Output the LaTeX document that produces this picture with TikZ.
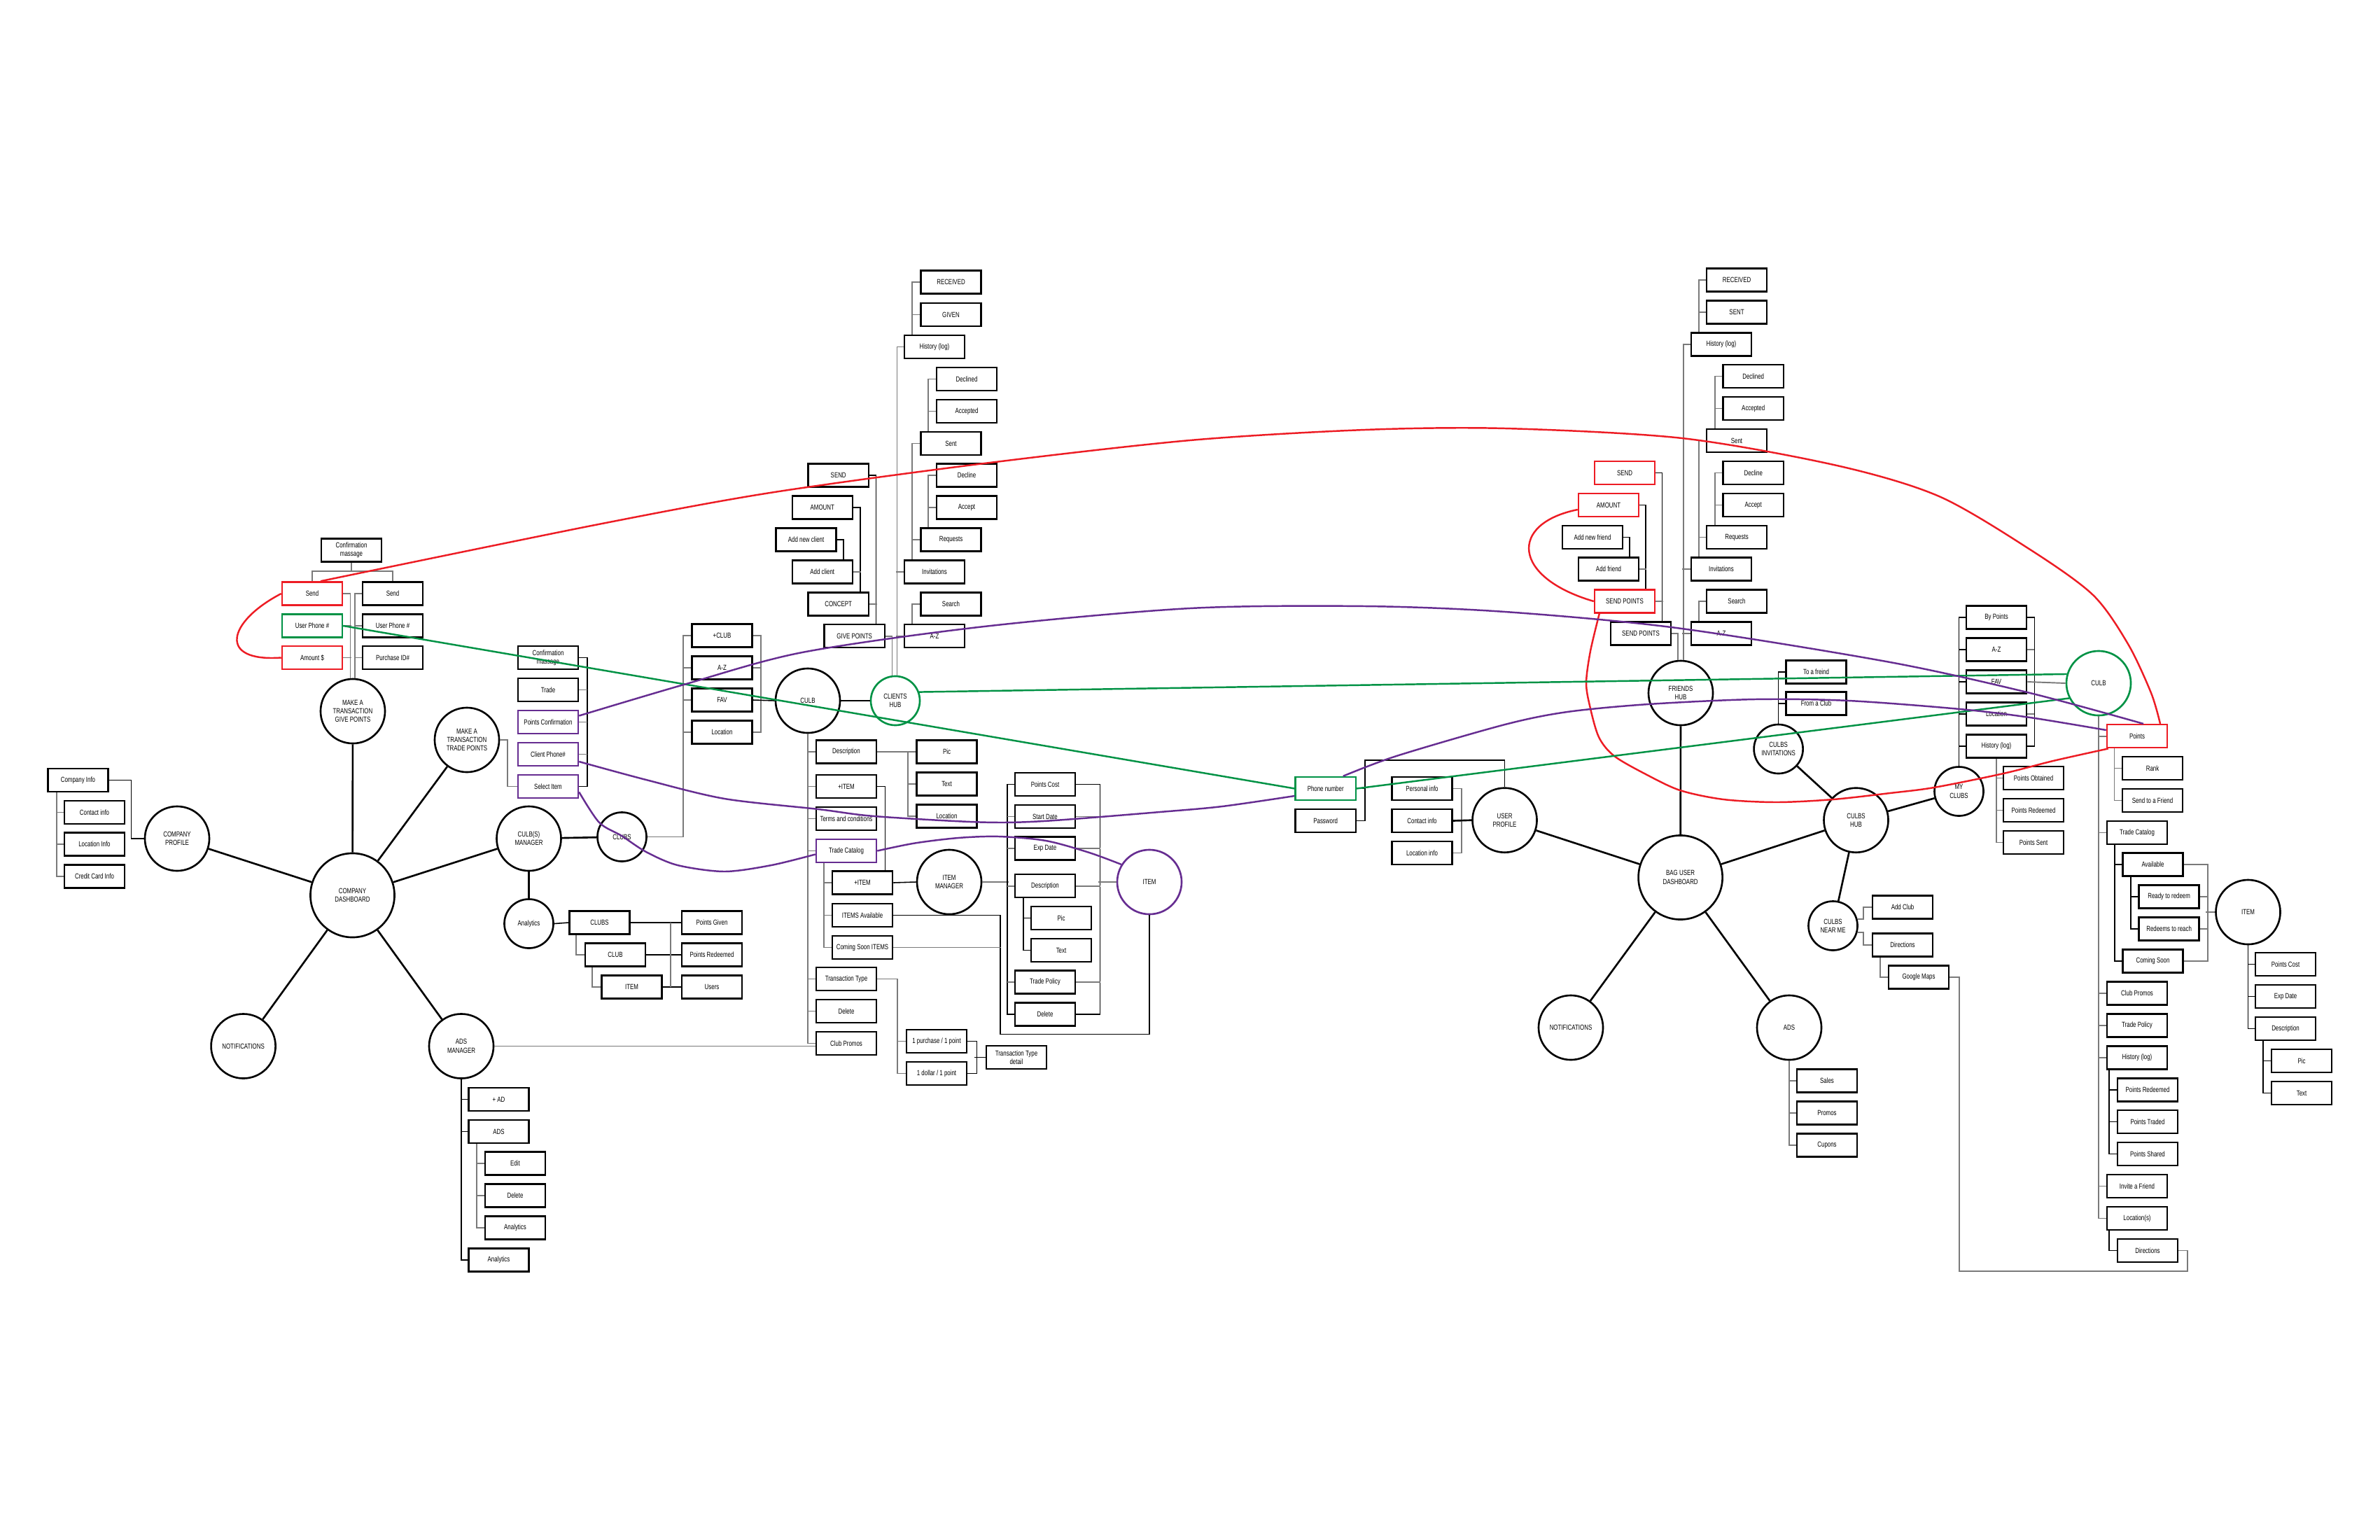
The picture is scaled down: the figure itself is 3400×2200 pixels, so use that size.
\documentclass[tikz,border=0pt]{standalone}
\usepackage{fontspec}
\newfontfamily\lbl[FakeStretch=0.75]{Liberation Sans}
\usetikzlibrary{calc}
\definecolor{rd}{HTML}{ED1C24}
\definecolor{gn}{HTML}{009245}
\definecolor{pu}{HTML}{662D91}
\definecolor{tg}{HTML}{7A7A7A}
\begin{document}
\begin{tikzpicture}[x=0.01cm, y=-0.01cm,
  every node/.style={font=\lbl\fontsize{3}{3.5}\selectfont},
  bx/.style={draw, line width=0.7pt, minimum width=0.86cm, minimum height=0.33cm, inner sep=0pt, align=center},
  bxr/.style={bx, draw=rd},
  bxg/.style={bx, draw=gn},
  bxp/.style={bx, draw=pu},
  hub/.style={draw, circle, line width=0.75pt, inner sep=0pt, align=center, minimum size=0.92cm},
  hubs/.style={hub, minimum size=0.70cm},
  hubl/.style={hub, minimum size=1.2cm},
  sp/.style={draw=black, line width=0.75pt},
  tr/.style={draw=tg, line width=0.55pt},
  trb/.style={draw=black, line width=0.45pt},
  rl/.style={draw=rd, line width=0.7pt},
  gl/.style={draw=gn, line width=0.7pt},
  pl/.style={draw=pu, line width=0.7pt}]
\fill[white] (0,0) rectangle (3400,2200);
\useasboundingbox (0,0) rectangle (3400,2200);

% ---------- LEFT: company side ----------
\node[bx] (confA) at (502,786) {Confirmation\\massage};
\node[bxr] (sendR) at (446,848) {Send};
\node[bxg] (phoneG) at (446,894) {User Phone \#};
\node[bxr] (amtR) at (446,939.5) {Amount \$};
\node[bx] (sendB) at (561,848) {Send};
\node[bx] (phoneB) at (561,894) {User Phone \#};
\node[bx] (purch) at (561,939.5) {Purchase ID\#};
\node[hub] (give) at (504,1016) {MAKE A\\TRANSACTION\\GIVE POINTS};
\node[hubl] (cdash) at (503.5,1279) {COMPANY\\DASHBOARD};
\node[hub] (cprof) at (253,1198) {COMPANY\\PROFILE};
\node[hub] (trade) at (667,1057) {MAKE A\\TRANSACTION\\TRADE POINTS};
\node[hub] (cman) at (755.5,1198) {CULB(S)\\MANAGER};
\node[hub] (notif1) at (347.6,1494.5) {NOTIFICATIONS};
\node[hub] (adsman) at (659,1494.5) {ADS\\MANAGER};
\node[bx] (cinfo) at (111.5,1114.5) {Company Info};
\node[bx] (contact) at (135,1160.5) {Contact info};
\node[bx] (locinfo) at (135,1206) {Location Info};
\node[bx] (ccard) at (135,1252) {Credit Card Info};
\node[bx] (confB) at (783,939.5) {Confirmation\\massage};
\node[bx] (tradeb) at (783,985.5) {Trade};
\node[bxp] (pconf) at (783,1031.5) {Points Confirmation};
\node[bxp] (cphone) at (783,1077.5) {Client Phone\#};
\node[bxp] (selitem) at (783,1123.5) {Select Item};
\node[hubs] (analytics) at (755.5,1319.5) {Analytics};
\node[bx] (clubsA) at (856.5,1318) {CLUBS};
\node[bx] (clubA) at (879,1364) {CLUB};
\node[bx] (itemA) at (902.5,1410) {ITEM};
\node[bx] (pgiven) at (1017,1318) {Points Given};
\node[bx] (predA) at (1017,1364) {Points Redeemed};
\node[bx] (users) at (1017,1410) {Users};
\node[bx] (addad) at (712.5,1570.5) {+ AD};
\node[bx] (ads) at (712.5,1616.5) {ADS};
\node[bx] (edit) at (736,1662) {Edit};
\node[bx] (del1) at (736,1708) {Delete};
\node[bx] (anal2) at (736,1754) {Analytics};
\node[bx] (anal3) at (712.5,1800) {Analytics};
\node[hubs] (clubsC) at (888.5,1195.5) {CLUBS};
\node[bx] (addclub) at (1031.5,908) {+CLUB};
\node[bx] (az1) at (1031.5,954) {A-Z};
\node[bx] (fav1) at (1031.5,1000) {FAV};
\node[bx] (loc1) at (1031.5,1046) {Location};
\node[hub] (club1) at (1154,1001) {CULB};
\node[hubs, draw=gn] (chub) at (1279,1001) {CLIENTS\\HUB};

% ---------- top middle stack ----------
\node[bx] (recv1) at (1358.5,403) {RECEIVED};
\node[bx] (given) at (1358.5,449.5) {GIVEN};
\node[bx] (hist1) at (1335,495.5) {History (log)};
\node[bx] (declined1) at (1381,541.5) {Declined};
\node[bx] (accepted1) at (1381,587.5) {Accepted};
\node[bx] (sent1) at (1358.5,633.5) {Sent};
\node[bx] (decline1) at (1381,679) {Decline};
\node[bx] (accept1) at (1381,725) {Accept};
\node[bx] (req1) at (1358.5,771) {Requests};
\node[bx] (inv1) at (1335,817) {Invitations};
\node[bx] (search1) at (1358.5,863) {Search};
\node[bx] (az2) at (1335,908.6) {A-Z};
\node[bx] (send1) at (1197.7,679) {SEND};
\node[bx] (amount1) at (1174.8,725) {AMOUNT};
\node[bx] (addnew) at (1151.6,771) {Add new client};
\node[bx] (addcl) at (1174.8,817) {Add client};
\node[bx] (concept) at (1197.7,863) {CONCEPT};
\node[bx] (givep) at (1220.7,908.6) {GIVE POINTS};

% ---------- club details ----------
\node[bx] (desc1) at (1209,1074) {Description};
\node[bx] (additem1) at (1209,1123.5) {+ITEM};
\node[bx] (terms) at (1209,1169.5) {Terms and conditions};
\node[bxp] (tcat1) at (1209,1215.5) {Trade Catalog};
\node[bx] (additem2) at (1232,1261) {+ITEM};
\node[bx] (itemsav) at (1232,1307.5) {ITEMS Available};
\node[bx] (csoon) at (1232,1353.5) {Coming Soon ITEMS};
\node[bx] (ttype) at (1209,1398.5) {Transaction Type};
\node[bx] (del2) at (1209,1444.5) {Delete};
\node[bx] (cpromo1) at (1209,1490.5) {Club Promos};
\node[bx] (pic1) at (1352.5,1074) {Pic};
\node[bx] (text1) at (1352.5,1120) {Text};
\node[bx] (loc2) at (1352.5,1166) {Location};
\node[hub] (itemman) at (1356,1260) {ITEM\\MANAGER};
\node[bx] (pcost1) at (1493,1120.5) {Points Cost};
\node[bx] (sdate) at (1493,1166.5) {Start Date};
\node[bx] (edate1) at (1493,1212) {Exp Date};
\node[bx] (desc2) at (1493,1265.6) {Description};
\node[bx] (pic2) at (1516,1311.5) {Pic};
\node[bx] (text2) at (1516,1357.5) {Text};
\node[bx] (tpol1) at (1493,1403) {Trade Policy};
\node[bx] (del3) at (1493,1449) {Delete};
\node[hub, draw=pu] (item1) at (1642,1260) {ITEM};
\node[bx] (purch1) at (1338,1487.5) {1 purchase / 1 point};
\node[bx] (dollar) at (1338,1533.5) {1 dollar / 1 point};
\node[bx] (ttdetail) at (1452,1510.5) {Transaction Type\\detail};

% ---------- user side ----------
\node[bxg] (phone2) at (1893.7,1126.5) {Phone number};
\node[bx] (passw) at (1893.7,1172.5) {Password};
\node[bx] (pinfo) at (2031.5,1126.5) {Personal info};
\node[bx] (cinfo2) at (2031.5,1172.5) {Contact info};
\node[bx] (linfo) at (2031.5,1218.5) {Location info};
\node[hub] (uprof) at (2149.5,1171.7) {USER\\PROFILE};
\node[hubl] (bag) at (2400.6,1253.5) {BAG USER\\DASHBOARD};
\node[hub] (fhub) at (2401,990) {FRIENDS\\HUB};
\node[hub] (notif2) at (2244,1468) {NOTIFICATIONS};
\node[hub] (ads2) at (2556,1468) {ADS};
\node[bx] (sales) at (2610,1544) {Sales};
\node[bx] (promos) at (2610,1590) {Promos};
\node[bx] (cupons) at (2610,1636) {Cupons};
\node[hub] (chub2) at (2651.5,1171.7) {CULBS\\HUB};
\node[hubs] (cinv) at (2540.6,1070) {CULBS\\INVITATIONS};
\node[bx] (tofr) at (2594.5,960) {To a freind};
\node[bx] (fromclub) at (2594.5,1005) {From a Club};
\node[hubs] (near) at (2618.5,1322.5) {CULBS\\NEAR ME};
\node[bx] (addclub2) at (2718,1296) {Add Club};
\node[bx] (dir1) at (2718,1350) {Directions};
\node[bx] (gmaps) at (2741,1396) {Google Maps};
\node[hubs] (myclubs) at (2798.5,1130.5) {MY\\CLUBS};
\node[bx] (bypts) at (2852,882) {By Points};
\node[bx] (az4) at (2852,928) {A-Z};
\node[bx] (fav2) at (2852,974) {FAV};
\node[bx] (loc3) at (2852,1020) {Location};
\node[bx] (hist3) at (2852,1066) {History (log)};
\node[bx] (pobt) at (2905,1111.5) {Points Obtained};
\node[bx] (pred2) at (2905,1157.5) {Points Redeemed};
\node[bx] (psent) at (2905,1203.5) {Points Sent};
\node[hub, draw=gn] (club2) at (2998,976) {CULB};
\node[bxr] (points) at (3053,1051.7) {Points};
\node[bx] (rank) at (3075,1097.5) {Rank};
\node[bx] (sendfr) at (3075,1143.5) {Send to a Friend};
\node[bx] (tcat2) at (3053,1189.5) {Trade Catalog};
\node[bx] (avail) at (3075.5,1235) {Available};
\node[bx] (ready) at (3098.6,1281) {Ready to redeem};
\node[bx] (redeems) at (3098.6,1327) {Redeems to reach};
\node[bx] (csoon2) at (3075.5,1373) {Coming Soon};
\node[hub] (item2) at (3211.5,1303) {ITEM};
\node[bx] (pcost2) at (3265,1377.5) {Points Cost};
\node[bx] (edate2) at (3265,1423.5) {Exp Date};
\node[bx] (desc3) at (3265,1469.5) {Description};
\node[bx] (pic3) at (3288,1515.5) {Pic};
\node[bx] (text3) at (3288,1561.5) {Text};
\node[bx] (cpromo2) at (3053,1419) {Club Promos};
\node[bx] (tpol2) at (3053,1465) {Trade Policy};
\node[bx] (hist4) at (3053,1511) {History (log)};
\node[bx] (pred3) at (3068,1557) {Points Redeemed};
\node[bx] (ptraded) at (3068,1602.5) {Points Traded};
\node[bx] (pshared) at (3068,1648.5) {Points Shared};
\node[bx] (invfr) at (3053,1694.5) {Invite a Friend};
\node[bx] (locs) at (3053,1740.5) {Location(s)};
\node[bx] (dir2) at (3068,1786.5) {Directions};

% ---------- right top stack ----------
\node[bx] (recv2) at (2481,400) {RECEIVED};
\node[bx] (sent2) at (2481,446) {SENT};
\node[bx] (hist2) at (2459,492) {History (log)};
\node[bx] (declined2) at (2504.7,537.5) {Declined};
\node[bx] (accepted2) at (2504.7,583.5) {Accepted};
\node[bx] (sent3) at (2481,629.5) {Sent};
\node[bx] (decline2) at (2504.7,675.5) {Decline};
\node[bx] (accept2) at (2504.7,721.5) {Accept};
\node[bx] (req2) at (2481,767.5) {Requests};
\node[bx] (inv2) at (2459,813) {Invitations};
\node[bx] (search2) at (2481,859) {Search};
\node[bx] (az3) at (2459,905) {A-Z};
\node[bxr] (sendR2) at (2321,675.5) {SEND};
\node[bxr] (amtR2) at (2298,721.5) {AMOUNT};
\node[bx] (addnf) at (2275,767.5) {Add new friend};
\node[bx] (addf) at (2298,813) {Add friend};
\node[bxr] (sptsR) at (2321,859) {SEND POINTS};
\node[bx] (sptsB) at (2344,905) {SEND POINTS};

% ================= CONNECTORS =================
\draw[tr] (confA.south) -- ++(0,12.6);
\draw[tr] (sendR.north) |- ($(confA.south)+(0,12.6)$) -| (sendB.north);
\draw[tr] (sendR.east) -| ($(give.north)+(-3.5,0)$);
\draw[tr] (phoneG.east) -- +(11.5,0);
\draw[tr] (amtR.east) -- +(11.5,0);
\draw[tr] (sendB.west) -| ($(give.north)+(3,0)$);
\draw[tr] (phoneB.west) -- +(-11,0);
\draw[tr] (purch.west) -- +(-11,0);
\draw[sp] (give) -- (cdash);
\draw[sp] (cdash) -- (cprof);
\draw[sp] (cdash) -- (trade);
\draw[sp] (cdash) -- (cman);
\draw[sp] (cdash) -- (notif1);
\draw[sp] (cdash) -- (adsman);
\foreach \n in {contact,locinfo,ccard} \draw[tr] ($(cinfo.south west)+(13.6,0)$) |- (\n.west);
\draw[trb] (cinfo.east) -| ($(cprof.west)+(-18,0)$) -- (cprof.west);
\draw[tr] (trade.east) -| ($(selitem.west)+(-14,0)$) -- (selitem.west);
\draw[trb] (confB.east) -| ($(selitem.east)+(11.5,0)$) -- (selitem.east);
\foreach \n in {tradeb,pconf,cphone} \draw[tr] (\n.east) -- +(11.5,0);
\draw[sp] (cman) -- (clubsC);
\draw[sp] (cman) -- (analytics);
\draw[trb] (analytics.east) -- (clubsA.west);
\draw[tr] ($(clubsA.south west)+(11,0)$) |- (clubA.west);
\draw[tr] ($(clubA.south west)+(11.4,0)$) |- (itemA.west);
\draw[trb] (clubsA.east) -- (pgiven.west);
\draw[trb] (clubA.east) -- (predA.west);
\draw[trb] (itemA.east) -- (users.west);
\draw[tr] ($(pgiven.west)+(-15,0)$) -- ($(users.west)+(-15,0)$);
\foreach \n in {addad,ads,anal3} \draw[trb] (adsman.south) |- (\n.west);
\foreach \n in {edit,del1,anal2} \draw[tr] ($(ads.south west)+(13,0)$) |- (\n.west);
\draw[tr] (adsman.east) -- (adsman.east -| cpromo1.west);
\draw[tr] (clubsC.east) -| ($(addclub.west)+(-11.3,0)$) -- (addclub.west);
\foreach \n in {az1,fav1,loc1} \draw[tr] (\n.west) -- +(-11.3,0);
\draw[tr] (addclub.east) -- +(11,0) |- (loc1.east);
\draw[tr] (az1.east) -- +(11,0);
\draw[trb] (fav1.east) -- (club1.west);
\draw[trb] (club1.east) -- (chub.west);
\foreach \n in {desc1,additem1,terms,tcat1,ttype,del2,cpromo1} \draw[tr] (club1.south) |- (\n.west);
\foreach \n in {additem2,itemsav,csoon} \draw[tr] ($(tcat1.south west)+(12.3,0)$) |- (\n.west);
\draw[tr] (desc1.east) -- (pic1.west);
\foreach \n in {text1,loc2} \draw[tr] ($(pic1.west)+(-11,0)$) |- (\n.west);
\draw[trb] (additem1.east) -| ($(additem2.north)+(32.5,0)$);
\draw[trb] (additem2.east) -- (itemman.west);
\draw[tr] (itemman.east) -- +(38,0);
\draw[trb] (pcost1.west) -- +(-10,0) |- (del3.west);
\foreach \n in {sdate,edate1,desc2,tpol1} \draw[tr] (\n.west) -- +(-10,0);
\draw[trb] (pcost1.east) -- +(34.4,0) |- (del3.east);
\foreach \n in {sdate,edate1,desc2,tpol1} \draw[tr] (\n.east) -- +(34.4,0);
\draw[tr] (item1.west) -- +(-26,0);
\foreach \n in {pic2,text2} \draw[trb] ($(desc2.south west)+(13,0)$) |- (\n.west);
\draw[trb] (itemsav.east) -| ($(item1.south)+(-213.3,170)$) -| (item1.south);
\draw[tr] (csoon.east) -- +(153.7,0);
\draw[tr] (ttype.east) -| ($(dollar.west)+(-11.4,0)$) -- (dollar.west);
\draw[tr] (purch1.west) -- +(-11.4,0);
\draw[trb] (purch1.east) -- +(13.3,0) |- (dollar.east);
\draw[trb] (ttdetail.west) -- +(-15.3,0);

\foreach \n in {recv1,given} \draw[tr] ($(hist1.north west)+(12.2,0)$) |- (\n.west);
\draw[tr] (hist1.west) -| ($(chub.north)+(2.5,0)$);
\draw[tr] (inv1.west) -- +(-11,0);
\draw[tr] (az2.west) -- +(-11,0);
\foreach \n in {declined1,accepted1} \draw[tr] ($(sent1.north west)+(11.7,0)$) |- (\n.west);
\draw[tr] (sent1.west) -| ($(inv1.north west)+(12.2,0)$);
\draw[tr] (req1.west) -- +(-11.3,0);
\foreach \n in {decline1,accept1} \draw[tr] ($(req1.north west)+(11.7,0)$) |- (\n.west);
\draw[tr] ($(az2.north west)+(12.2,0)$) |- (search1.west);
\draw[trb] (send1.east) -| ($(givep.north)+(30.8,0)$);
\draw[tr] (concept.east) -- +(11,0);
\draw[trb] (amount1.east) -| ($(concept.north)+(31,0)$);
\draw[tr] (addcl.east) -- +(11,0);
\draw[trb] (addnew.east) -| ($(addcl.north)+(30.4,0)$);
\draw[tr] (givep.east) -| ($(chub.north)+(-4.5,0)$);

\foreach \n in {recv2,sent2} \draw[tr] ($(hist2.north west)+(12,0)$) |- (\n.west);
\draw[tr] (hist2.west) -| ($(fhub.north)+(3.6,0)$);
\draw[tr] (inv2.west) -- +(-11.4,0);
\draw[tr] (az3.west) -- +(-11.4,0);
\foreach \n in {declined2,accepted2} \draw[tr] ($(sent3.north west)+(13,0)$) |- (\n.west);
\draw[tr] (sent3.west) -| ($(inv2.north west)+(12,0)$);
\draw[tr] (req2.west) -- +(-10,0);
\foreach \n in {decline2,accept2} \draw[tr] ($(req2.north west)+(13,0)$) |- (\n.west);
\draw[tr] ($(az3.north west)+(12,0)$) |- (search2.west);
\draw[trb] (sendR2.east) -| ($(sptsB.north)+(30.6,0)$);
\draw[tr] (sptsR.east) -- +(10.6,0);
\draw[trb] (amtR2.east) -| ($(sptsR.north)+(30,0)$);
\draw[tr] (addf.east) -- +(10,0);
\draw[trb] (addnf.east) -| ($(addf.north)+(30,0)$);
\draw[tr] (sptsB.east) -| ($(fhub.north)+(-4,0)$);

\draw[sp] (fhub) -- (bag);
\draw[sp] (bag) -- (uprof);
\draw[sp] (bag) -- (chub2);
\draw[sp] (bag) -- (notif2);
\draw[sp] (bag) -- (ads2);
\draw[sp] (chub2) -- (cinv);
\draw[sp] (chub2) -- (myclubs);
\draw[sp] (chub2) -- (near);
\foreach \n in {tofr,fromclub} \draw[trb] (cinv.north) |- (\n.west);
\draw[tr] (near.15) -| ($(addclub2.west)+(-12,0)$) -- (addclub2.west);
\draw[tr] (near.-15) -| ($(dir1.west)+(-12,0)$) -- (dir1.west);
\draw[tr] ($(dir1.south west)+(12,0)$) |- (gmaps.west);
\draw[tr] (gmaps.east) -| ($(dir2.east)+(-313,29.2)$) -| ($(dir2.east)+(13,0)$) -- (dir2.east);
\foreach \n in {sales,promos,cupons} \draw[tr] (ads2.south) |- (\n.west);
\draw[trb] (passw.east) -- +(12,0) |- ($(uprof.north)+(0,-38.4)$) -- (uprof.north);
\draw[trb] (phone2.east) -- +(12,0);
\draw[tr] (pinfo.east) -- +(12.2,0) |- (linfo.east);
\draw[sp] (cinfo2.east) -- (uprof.west);

\foreach \n in {bypts,az4,fav2,loc3,hist3} \draw[trb] (myclubs.north) |- (\n.west);
\draw[trb] (bypts.east) -- +(10,0) |- (hist3.east);
\draw[tr] (az4.east) -- +(10,0);
\draw[tr] (loc3.east) -- +(10,0);
\draw[tr] (fav2.east) -- (club2.west);
\foreach \n in {pobt,pred2,psent} \draw[tr] (hist3.south) |- (\n.west);
\foreach \n in {points,tcat2,cpromo2,tpol2,hist4,invfr,locs} \draw[tr] (club2.south) |- (\n.west);
\foreach \n in {rank,sendfr} \draw[tr] ($(points.south west)+(11.7,0)$) |- (\n.west);
\foreach \n in {avail,csoon2} \draw[trb] ($(tcat2.south west)+(12,0)$) |- (\n.west);
\foreach \n in {ready,redeems} \draw[trb] ($(avail.south west)+(12.5,0)$) |- (\n.west);
\draw[tr] (avail.east) -- +(34,0) |- (csoon2.east);
\draw[tr] (ready.east) -- +(11.4,0);
\draw[tr] (redeems.east) -- +(11.4,0);
\draw[tr] (item2.west) -- +(-12.7,0);
\foreach \n in {pcost2,edate2,desc3} \draw[trb] (item2.south) |- (\n.west);
\foreach \n in {pic3,text3} \draw[trb] ($(desc3.south west)+(12,0)$) |- (\n.west);
\foreach \n in {pred3,ptraded,pshared} \draw[trb] ($(hist4.south west)+(4,0)$) |- (\n.west);
\draw[trb] ($(locs.south west)+(4,0)$) |- (dir2.west);

% ================= COLOURED LINKS =================
\coordinate (r1s) at ($(sendR.north)+(12,0)$);
\coordinate (r1e) at ($(points.north)+(33,0)$);
\draw[rl] plot[smooth, tension=0.5] coordinates {(r1s) (850,750) (1100,704) (1406,662) (1700,629) (1950,614) (2150,612) (2403,626) (2624,665) (2770,709) (2900,785) (2990,850) (3040,920) (3073,990) (r1e)};
\draw[rl] (sendR.west) .. controls (325,888) and (310,946) .. (amtR.west);
\coordinate (r3s) at ($(amtR2.west)+(0,6.5)$);
\draw[rl] (r3s) .. controls (2155,748) and (2160,825) .. (sptsR.west);
\coordinate (r4s) at ($(sptsR.south west)+(8,0)$);
\coordinate (r4e) at ($(points.south west)+(3,0)$);
\draw[rl] plot[smooth, tension=0.5] coordinates {(r4s) (2272,930) (2266,975) (2271,1008) (2284,1053) (2306,1080) (2351,1106) (2400,1129) (2462,1142) (2538,1146) (2619,1142) (2700,1133) (2763,1125) (2862,1105) (2933,1087) (r4e)};

\draw[gl] (phoneG.east) -- (phone2.west);
\draw[gl] (chub.20) -- (club2.164);
\draw[gl] (phone2.east) -- (club2.207);

\coordinate (p1s) at ($(pconf.east)+(0,-9)$);
\coordinate (p1e) at ($(points.north)+(9,0)$);
\draw[pl] plot[smooth, tension=0.5] coordinates {(p1s) (977,978) (1146,932) (1406,895) (1700,869) (1950,866) (2150,874) (2395,897) (2700,946) (2900,990) (p1e)};
\coordinate (p2s) at ($(cphone.east)+(0,10.5)$);
\coordinate (p2e) at ($(phone2.west)+(0,10.5)$);
\draw[pl] plot[smooth, tension=0.5] coordinates {(p2s) (923,1114) (1035,1141) (1169,1156) (1249,1166) (1400,1174.5) (1491,1173) (1657,1160) (1746,1152) (p2e)};
\coordinate (p2b) at ($(phone2.north)+(25,0)$);
\coordinate (p2f) at ($(points.west)+(0,-8.7)$);
\draw[pl] plot[smooth, tension=0.5] coordinates {(p2b) (1995,1080) (2150,1035) (2239,1017) (2355,1006) (2507,999) (2641,1001) (2800,1013) (2900,1025) (p2f)};
\coordinate (p3s) at ($(selitem.east)+(0,8)$);
\coordinate (p3e) at ($(tcat1.west)+(0,5)$);
\draw[pl] plot[smooth, tension=0.5] coordinates {(p3s) (856,1175) (888,1194) (923,1217) (968,1236) (1035,1245) (1102,1236) (p3e)};
\draw[pl] plot[smooth, tension=0.5] coordinates {(tcat1.east) (1307,1204.5) (1369,1197) (1427,1195) (1494,1201) (1556,1218) (item1.148)};
\end{tikzpicture}
\end{document}
